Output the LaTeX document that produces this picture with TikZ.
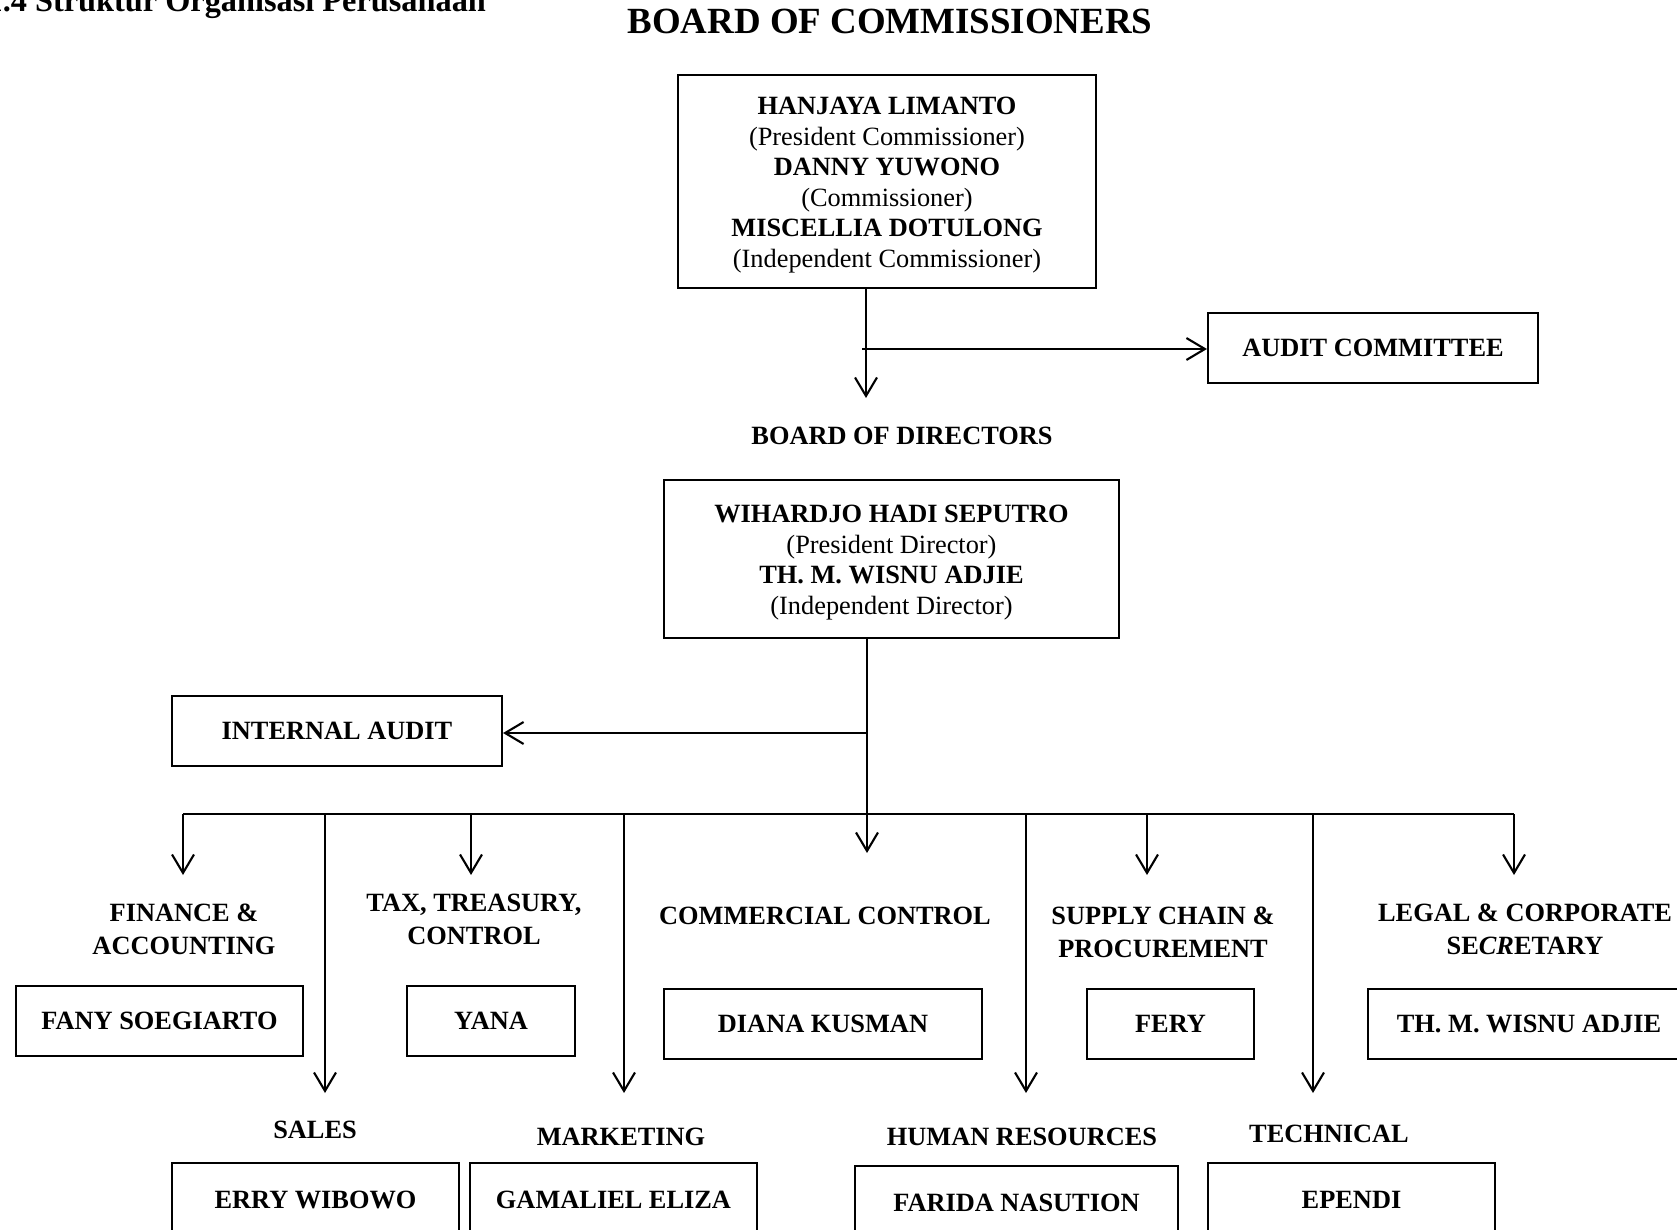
\documentclass[tikz,border=0pt]{standalone}
\usepackage{fontspec}
\setmainfont{Liberation Serif}
\usetikzlibrary{arrows.meta}
\begin{document}
\begin{tikzpicture}[x=0.02cm,y=-0.02cm,line width=1.2pt,
  bx/.style 2 args={draw,line width=1.2pt,minimum width={#1*0.02cm},minimum height={#2*0.02cm},inner sep=0pt,align=center,font=\fontsize{15}{17.4}\selectfont\bfseries},
  boxtext/.style={inner sep=0pt,align=center,font=\fontsize{15}{17.4}\selectfont\bfseries},
  lab/.style={inner sep=0pt,align=center,font=\fontsize{15}{18.7}\selectfont\bfseries},
  arr/.style={-{Straight Barb[length=10.5pt,width=12.5pt]}},
  busline/.style={line width=1pt}]
\useasboundingbox (0,0) rectangle (1677,1230);
% titles
\node[anchor=base east,inner sep=0pt,font=\fontsize{18.4}{20}\selectfont\bfseries] (ttl) at (487,12) {1.4 Struktur Organisasi Perusahaan};
\node[inner sep=0pt,font=\fontsize{21}{24}\selectfont\bfseries] (boc) at (890,21) {BOARD OF COMMISSIONERS};
% commissioners
\node[bx={418}{213}] (com) at (887,181.5) {};
\node[boxtext] (comtxt) at (887,185) {HANJAYA LIMANTO\\\mdseries(President Commissioner)\\DANNY YUWONO\\\mdseries(Commissioner)\\MISCELLIA DOTULONG\\\mdseries(Independent Commissioner)};
\node[bx={330}{70}] (ac) at (1373,348) {AUDIT COMMITTEE};
\node[lab] (bod) at (902,436) {BOARD OF DIRECTORS};
\node[bx={455}{158}] (dir) at (891.5,559) {};
\node[boxtext] (dirtxt) at (891.5,562.5) {WIHARDJO HADI SEPUTRO\\\mdseries(President Director)\\TH. M. WISNU ADJIE\\\mdseries(Independent Director)};
\node[bx={330}{70}] (ia) at (337,731) {INTERNAL AUDIT};
% connectors top
\coordinate (c1) at (866,398);
\coordinate (j1) at (862,349);
\draw[arr] (com.south -| c1) -- (c1);
\draw[arr] (j1) -- (j1 -| ac.west);
\coordinate (c2) at (867,853);
\coordinate (j2) at (867,733);
\draw[arr] (dir.south -| c2) -- (c2);
\draw[arr] (j2) -- (j2 -| ia.east);
% bus
\coordinate (bl) at (183,814);
\coordinate (br) at (1514,814);
\draw[busline] (bl) -- (br);
\foreach \x/\n in {183/a,471/b,1147/c,1514/d}{
  \coordinate (s\n) at (\x,814);
  \coordinate (e\n) at (\x,875);
  \draw[arr] (s\n) -- (e\n);
}
\foreach \x/\n in {325/f,624/g,1026/h,1313/i}{
  \coordinate (s\n) at (\x,814);
  \coordinate (e\n) at (\x,1093);
  \draw[arr] (s\n) -- (e\n);
}
% top row
\node[lab] (fin) at (184,929) {FINANCE \&\\ACCOUNTING};
\node[lab] (tax) at (474,919.5) {TAX, TREASURY,\\CONTROL};
\node[lab] (cc) at (825,916) {COMMERCIAL CONTROL};
\node[lab] (scp) at (1163,932.5) {SUPPLY CHAIN \&\\PROCUREMENT};
\node[lab] (leg) at (1525,929) {LEGAL \& CORPORATE\\SE\textit{CR}ETARY};
\node[bx={287}{70}] (fany) at (159.5,1021) {FANY SOEGIARTO};
\node[bx={168}{70}] (yana) at (491,1021) {YANA};
\node[bx={318}{70}] (diana) at (823,1024) {DIANA KUSMAN};
\node[bx={167}{70}] (fery) at (1170.5,1024) {FERY};
\node[bx={322}{70}] (wis) at (1529,1024) {TH. M. WISNU ADJIE};
% bottom row
\node[lab] (sales) at (315,1130) {SALES};
\node[lab] (mkt) at (621,1137) {MARKETING};
\node[lab] (hr) at (1022,1137) {HUMAN RESOURCES};
\node[lab] (tech) at (1329,1134) {TECHNICAL};
\node[bx={287}{74}] (erry) at (315.5,1200) {ERRY WIBOWO};
\node[bx={287}{74}] (gam) at (613.5,1200) {GAMALIEL ELIZA};
\node[bx={323}{74}] (far) at (1016.5,1203) {FARIDA NASUTION};
\node[bx={287}{74}] (epe) at (1351.5,1200) {EPENDI};
\end{tikzpicture}
\end{document}
